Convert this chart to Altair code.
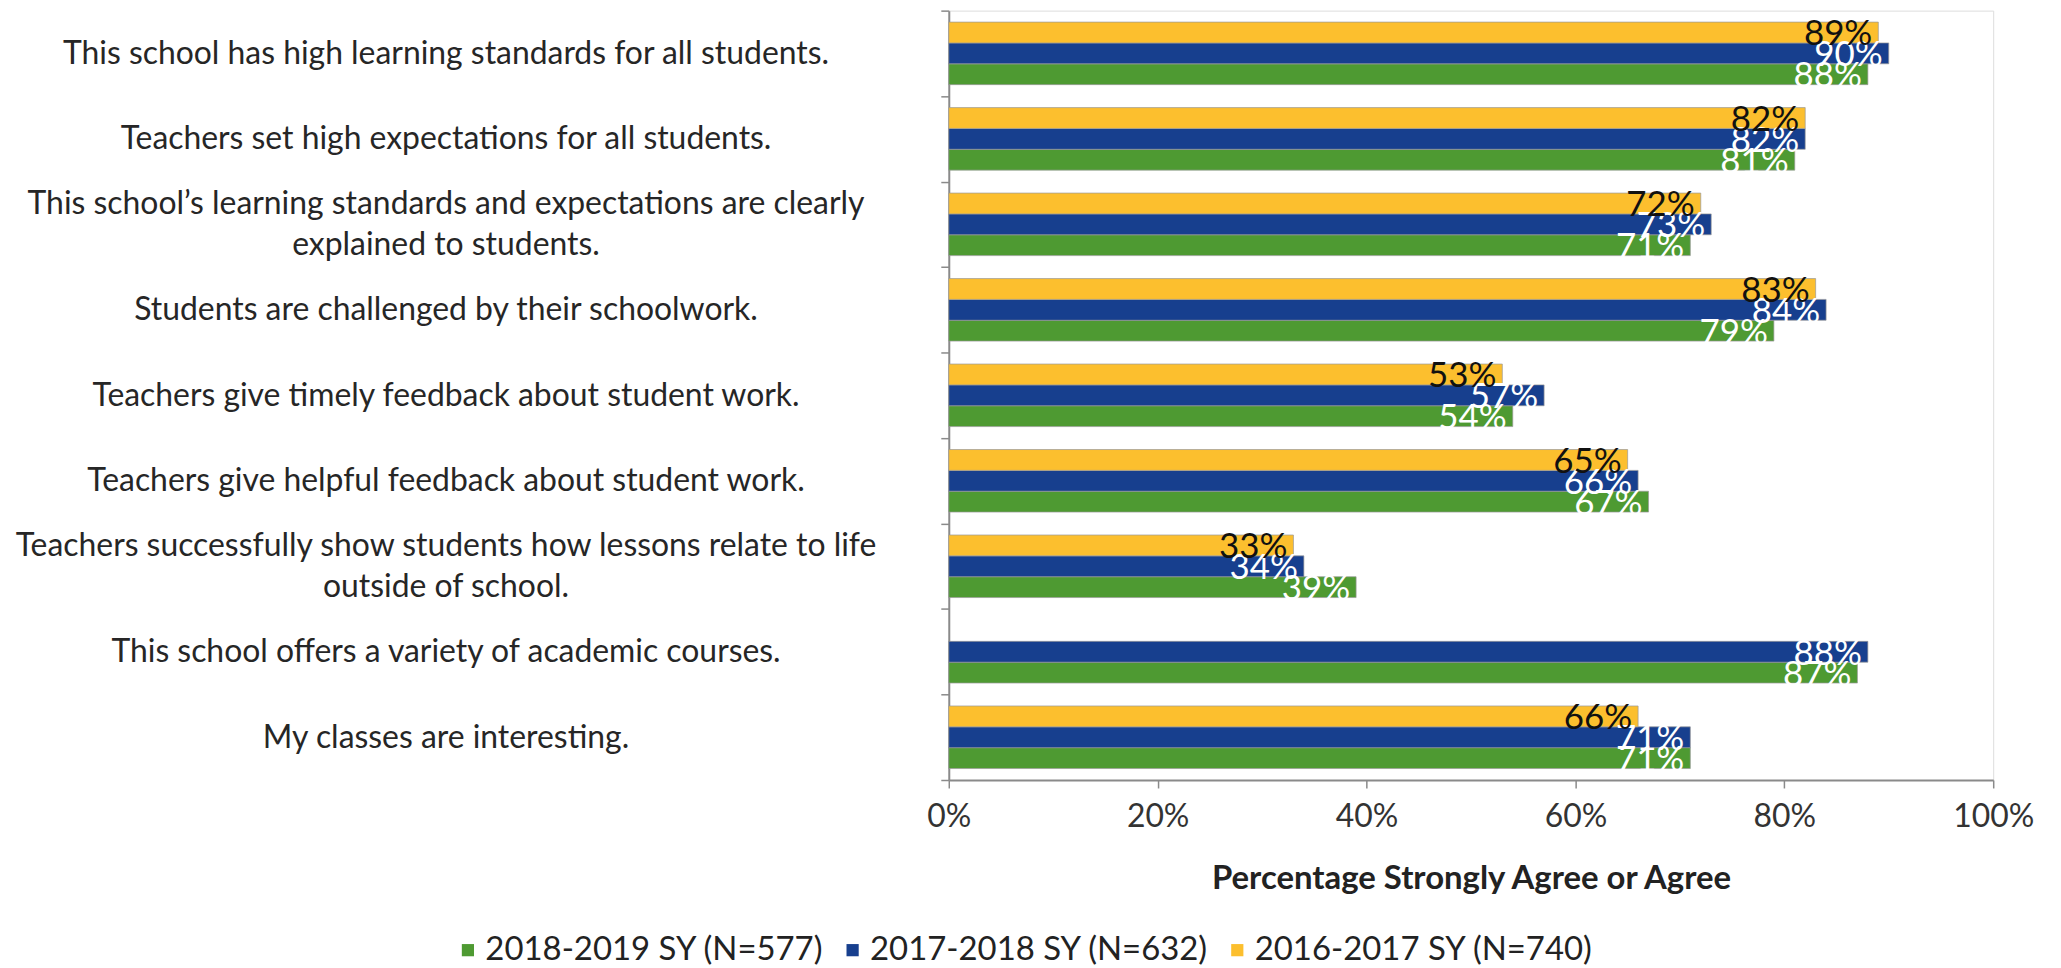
import altair as alt
import pandas as pd

questions = [
    "This school has high learning standards for all students.",
    "Teachers set high expectations for all students.",
    "This school\u2019s learning standards and expectations are clearly|explained to students.",
    "Students are challenged by their schoolwork.",
    "Teachers give timely feedback about student work.",
    "Teachers give helpful feedback about student work.",
    "Teachers successfully show students how lessons relate to life|outside of school.",
    "This school offers a variety of academic courses.",
    "My classes are interesting.",
]
series_names = ["2018-2019 SY (N=577)", "2017-2018 SY (N=632)", "2016-2017 SY (N=740)"]
series_colors = ["#4E9A32", "#173F8E", "#FCBF2E"]
v_2018_2019 = [88, 81, 71, 79, 54, 67, 39, 87, 71]
v_2017_2018 = [90, 82, 73, 84, 57, 66, 34, 88, 71]
v_2016_2017 = [89, 82, 72, 83, 53, 65, 33, None, 66]
x_ticks = [0, 20, 40, 60, 80, 100]

rows = []
for s, vals in zip(series_names, [v_2018_2019, v_2017_2018, v_2016_2017]):
    for q, v in zip(questions, vals):
        if v is not None:
            rows.append({"question": q, "series": s, "value": v})
df = pd.DataFrame(rows)

FONT = "Lato"
offset_order = [series_names[2], series_names[1], series_names[0]]

two_line_test = "isString(datum.value) && indexof(datum.value, '|') >= 0"

y_axis = alt.Axis(
    title=None,
    labelExpr="isString(datum.label) ? split(datum.label, '|') : ''",
    labelAlign="center",
    labelBaseline={
        "condition": {"test": two_line_test, "value": "line-bottom"},
        "value": "middle",
    },
    labelPadding=497,
    labelLimit=1200,
    labelFont=FONT,
    labelFontSize=32,
    labelLineHeight=41,
    labelColor="#262626",
    tickBand="extent",
    tickSize=8,
    tickColor="#8a8a8a",
    tickWidth=1.5,
    domainColor="#8a8a8a",
    domainWidth=2,
)
x_axis = alt.Axis(
    values=x_ticks,
    labelExpr="datum.value + '%'",
    labelFlush=False,
    title="Percentage Strongly Agree or Agree",
    titleFont=FONT,
    titleFontSize=33,
    titleFontWeight="bold",
    titleColor="#222222",
    titlePadding=30,
    labelFont=FONT,
    labelFontSize=32,
    labelColor="#333333",
    labelPadding=14,
    tickSize=8,
    tickColor="#8a8a8a",
    tickWidth=1.5,
    domainColor="#8a8a8a",
    domainWidth=2,
    grid=False,
)

y_enc = alt.Y(
    "question:N",
    sort=questions,
    scale=alt.Scale(paddingInner=0, paddingOuter=0),
    axis=y_axis,
)
yoff_enc = alt.YOffset(
    "series:N",
    sort=offset_order,
    scale=alt.Scale(paddingInner=0, paddingOuter=0.55),
)
x_enc = alt.X(
    "value:Q",
    scale=alt.Scale(domain=[0, 100], nice=False),
    axis=x_axis,
)

bars = alt.Chart(df).mark_bar(
    stroke="#9a9a9a", strokeWidth=1, strokeOpacity=0.7
).encode(
    y=y_enc,
    yOffset=yoff_enc,
    x=x_enc,
    color=alt.Color(
        "series:N",
        sort=series_names,
        scale=alt.Scale(domain=series_names, range=series_colors),
        legend=alt.Legend(
            title=None,
            orient="none",
            legendX=-499,
            legendY=926,
            direction="horizontal",
            columns=3,
            columnPadding=12,
            symbolType="square",
            symbolSize=150,
            symbolStrokeWidth=0,
            labelFont=FONT,
            labelFontSize=33,
            labelColor="#222222",
            labelOffset=1,
            labelLimit=600,
            padding=0,
        ),
    ),
)

labels = alt.Chart(df).transform_calculate(
    label="datum.value + '%'"
).mark_text(
    align="right", baseline="middle", dx=-6, dy=2, font=FONT, fontSize=35
).encode(
    y=y_enc,
    yOffset=yoff_enc,
    x=x_enc,
    text="label:N",
    color=alt.condition(
        alt.datum.series == series_names[2], alt.value("#111111"), alt.value("#ffffff")
    ),
)

chart = (
    alt.layer(bars, labels)
    .properties(
        width=1048,
        height=772,
        autosize=alt.AutoSizeParams(type="none"),
        padding={"left": 944, "top": 1, "right": 60, "bottom": 186},
    )
    .configure_view(stroke=None)
    .configure(background="white")
)

chart.save("out.html", embed_options={"renderer": "svg", "actions": False})
